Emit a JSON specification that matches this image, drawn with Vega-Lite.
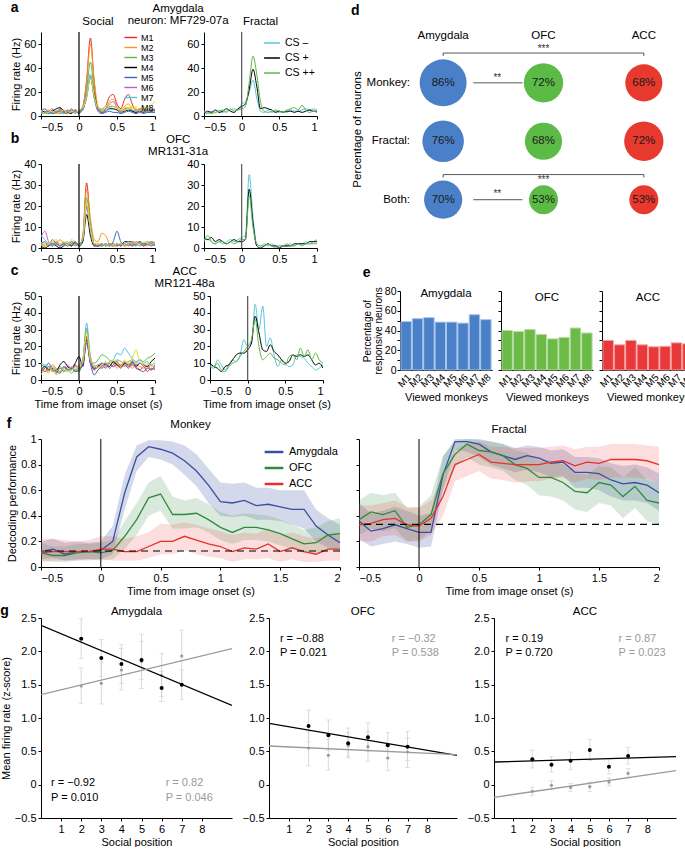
{
"$schema":"https://vega.github.io/schema/vega-lite/v6.json",
"padding":{"left":0,"top":1,"right":1,"bottom":0},
"config":{"font":"Liberation Sans","view":{"stroke":null},
"axis":{"grid":false,"domainColor":"#000","tickColor":"#000","labelColor":"#000","titleColor":"#000","labelFontSize":11,"titleFontSize":11,"titleFontWeight":"normal","tickSize":3,"labelPadding":2,"titlePadding":3,"labelOverlap":false,"labelFont":"Liberation Sans","titleFont":"Liberation Sans"},
"title":{"fontSize":11.5,"fontWeight":"normal","color":"#000","font":"Liberation Sans","offset":3},
"legend":{"labelFont":"Liberation Sans","labelColor":"#000"}},
"datasets":{
"psth":[
{"p":"a","t":-0.5,"M1":3,"M2":4,"M3":2,"M4":5,"M5":4,"M6":3,"M7":2,"M8":5,"Cm":3,"Cp":2,"Cpp":4},
{"p":"a","t":-0.45,"M1":4,"M2":3,"M3":3,"M4":3,"M5":6,"M6":2,"M7":3,"M8":2,"Cm":2,"Cp":4,"Cpp":3},
{"p":"a","t":-0.4,"M1":2,"M2":5,"M3":4,"M4":2,"M5":3,"M6":4,"M7":2,"M8":3,"Cm":4,"Cp":3,"Cpp":2},
{"p":"a","t":-0.35,"M1":5,"M2":2,"M3":3,"M4":4,"M5":2,"M6":6,"M7":3,"M8":4,"Cm":3,"Cp":5,"Cpp":3},
{"p":"a","t":-0.3,"M1":3,"M2":4,"M3":2,"M4":6,"M5":3,"M6":3,"M7":5,"M8":2,"Cm":5,"Cp":3,"Cpp":4},
{"p":"a","t":-0.25,"M1":6,"M2":3,"M3":5,"M4":7,"M5":4,"M6":2,"M7":3,"M8":3,"Cm":3,"Cp":4,"Cpp":5},
{"p":"a","t":-0.2,"M1":3,"M2":5,"M3":3,"M4":4,"M5":2,"M6":4,"M7":2,"M8":5,"Cm":4,"Cp":6,"Cpp":3},
{"p":"a","t":-0.15,"M1":2,"M2":4,"M3":3,"M4":3,"M5":5,"M6":3,"M7":4,"M8":2,"Cm":5,"Cp":4,"Cpp":6},
{"p":"a","t":-0.1,"M1":6,"M2":3,"M3":4,"M4":2,"M5":3,"M6":5,"M7":3,"M8":4,"Cm":6,"Cp":3,"Cpp":4},
{"p":"a","t":-0.05,"M1":3,"M2":5,"M3":2,"M4":5,"M5":4,"M6":3,"M7":5,"M8":3,"Cm":5,"Cp":6,"Cpp":5},
{"p":"a","t":0,"M1":4,"M2":3,"M3":5,"M4":3,"M5":2,"M6":4,"M7":3,"M8":5,"Cm":10,"Cp":8,"Cpp":6},
{"p":"a","t":0.05,"M1":8,"M2":7,"M3":6,"M4":5,"M5":6,"M6":6,"M7":5,"M8":7,"Cm":12,"Cp":10,"Cpp":8},
{"p":"a","t":0.1,"M1":30,"M2":28,"M3":22,"M4":18,"M5":15,"M6":17,"M7":20,"M8":16,"Cm":20,"Cp":22,"Cpp":28},
{"p":"a","t":0.15,"M1":65,"M2":60,"M3":45,"M4":32,"M5":33,"M6":33,"M7":35,"M8":32,"Cm":30,"Cp":39,"Cpp":50},
{"p":"a","t":0.2,"M1":28,"M2":30,"M3":20,"M4":18,"M5":15,"M6":16,"M7":15,"M8":17,"Cm":15,"Cp":25,"Cpp":35},
{"p":"a","t":0.25,"M1":5,"M2":8,"M3":6,"M4":6,"M5":4,"M6":5,"M7":6,"M8":7,"Cm":4,"Cp":6,"Cpp":12},
{"p":"a","t":0.3,"M1":6,"M2":5,"M3":4,"M4":3,"M5":2,"M6":3,"M7":4,"M8":6,"Cm":3,"Cp":7,"Cpp":4},
{"p":"a","t":0.35,"M1":8,"M2":6,"M3":5,"M4":4,"M5":3,"M6":6,"M7":4,"M8":8,"Cm":5,"Cp":6,"Cpp":3},
{"p":"a","t":0.4,"M1":16,"M2":12,"M3":8,"M4":6,"M5":4,"M6":10,"M7":7,"M8":10,"Cm":3,"Cp":5,"Cpp":4},
{"p":"a","t":0.45,"M1":18,"M2":14,"M3":8,"M4":6,"M5":3,"M6":12,"M7":8,"M8":8,"Cm":4,"Cp":3,"Cpp":5},
{"p":"a","t":0.5,"M1":10,"M2":9,"M3":6,"M4":5,"M5":3,"M6":7,"M7":6,"M8":6,"Cm":3,"Cp":4,"Cpp":4},
{"p":"a","t":0.55,"M1":6,"M2":5,"M3":4,"M4":3,"M5":2,"M6":4,"M7":3,"M8":5,"Cm":4,"Cp":3,"Cpp":3},
{"p":"a","t":0.6,"M1":14,"M2":8,"M3":6,"M4":4,"M5":3,"M6":6,"M7":5,"M8":5,"Cm":3,"Cp":4,"Cpp":5},
{"p":"a","t":0.65,"M1":18,"M2":10,"M3":7,"M4":5,"M5":4,"M6":7,"M7":6,"M8":6,"Cm":5,"Cp":4,"Cpp":6},
{"p":"a","t":0.7,"M1":10,"M2":7,"M3":4,"M4":4,"M5":3,"M6":5,"M7":5,"M8":7,"Cm":4,"Cp":3,"Cpp":7},
{"p":"a","t":0.75,"M1":5,"M2":5,"M3":3,"M4":3,"M5":2,"M6":4,"M7":4,"M8":6,"Cm":4,"Cp":4,"Cpp":5},
{"p":"a","t":0.8,"M1":6,"M2":4,"M3":5,"M4":4,"M5":3,"M6":3,"M7":5,"M8":4,"Cm":5,"Cp":3,"Cpp":9},
{"p":"a","t":0.85,"M1":5,"M2":6,"M3":4,"M4":3,"M5":2,"M6":4,"M7":5,"M8":8,"Cm":6,"Cp":4,"Cpp":5},
{"p":"a","t":0.9,"M1":4,"M2":5,"M3":3,"M4":5,"M5":3,"M6":4,"M7":4,"M8":6,"Cm":5,"Cp":5,"Cpp":3},
{"p":"a","t":0.95,"M1":6,"M2":4,"M3":5,"M4":4,"M5":3,"M6":5,"M7":6,"M8":9,"Cm":6,"Cp":4,"Cpp":4},
{"p":"a","t":1.0,"M1":5,"M2":6,"M3":4,"M4":5,"M5":3,"M6":4,"M7":5,"M8":12,"Cm":5,"Cp":4,"Cpp":3},
{"p":"b","t":-0.5,"M1":2,"M2":1,"M3":3,"M4":1,"M5":2,"M6":5,"M7":6,"M8":2,"Cm":4,"Cp":5,"Cpp":3},
{"p":"b","t":-0.45,"M1":1,"M2":2,"M3":1,"M4":0,"M5":3,"M6":8,"M7":4,"M8":1,"Cm":4,"Cp":4,"Cpp":6},
{"p":"b","t":-0.4,"M1":2,"M2":1,"M3":2,"M4":1,"M5":1,"M6":3,"M7":2,"M8":2,"Cm":3,"Cp":5,"Cpp":3},
{"p":"b","t":-0.35,"M1":1,"M2":3,"M3":1,"M4":2,"M5":4,"M6":1,"M7":1,"M8":3,"Cm":2,"Cp":3,"Cpp":2},
{"p":"b","t":-0.3,"M1":3,"M2":2,"M3":2,"M4":1,"M5":2,"M6":2,"M7":3,"M8":4,"Cm":3,"Cp":4,"Cpp":3},
{"p":"b","t":-0.25,"M1":1,"M2":4,"M3":1,"M4":0,"M5":1,"M6":1,"M7":2,"M8":2,"Cm":2,"Cp":3,"Cpp":3},
{"p":"b","t":-0.2,"M1":2,"M2":2,"M3":2,"M4":1,"M5":2,"M6":3,"M7":1,"M8":3,"Cm":3,"Cp":2,"Cpp":2},
{"p":"b","t":-0.15,"M1":1,"M2":1,"M3":3,"M4":2,"M5":1,"M6":1,"M7":2,"M8":1,"Cm":4,"Cp":3,"Cpp":3},
{"p":"b","t":-0.1,"M1":2,"M2":3,"M3":1,"M4":1,"M5":3,"M6":2,"M7":3,"M8":4,"Cm":3,"Cp":4,"Cpp":2},
{"p":"b","t":-0.05,"M1":3,"M2":2,"M3":2,"M4":3,"M5":2,"M6":1,"M7":2,"M8":3,"Cm":4,"Cp":3,"Cpp":3},
{"p":"b","t":0,"M1":1,"M2":1,"M3":2,"M4":1,"M5":2,"M6":2,"M7":1,"M8":2,"Cm":5,"Cp":3,"Cpp":4},
{"p":"b","t":0.05,"M1":6,"M2":5,"M3":4,"M4":3,"M5":4,"M6":4,"M7":5,"M8":5,"Cm":6,"Cp":4,"Cpp":4},
{"p":"b","t":0.1,"M1":31,"M2":28,"M3":24,"M4":16,"M5":20,"M6":20,"M7":22,"M8":22,"Cm":35,"Cp":28,"Cpp":25},
{"p":"b","t":0.15,"M1":12,"M2":14,"M3":10,"M4":6,"M5":8,"M6":9,"M7":10,"M8":9,"Cm":15,"Cp":12,"Cpp":10},
{"p":"b","t":0.2,"M1":2,"M2":4,"M3":2,"M4":1,"M5":2,"M6":2,"M7":2,"M8":2,"Cm":2,"Cp":1,"Cpp":2},
{"p":"b","t":0.25,"M1":1,"M2":3,"M3":2,"M4":1,"M5":1,"M6":1,"M7":2,"M8":2,"Cm":1,"Cp":0,"Cpp":1},
{"p":"b","t":0.3,"M1":2,"M2":7,"M3":1,"M4":2,"M5":1,"M6":2,"M7":1,"M8":2,"Cm":2,"Cp":1,"Cpp":1},
{"p":"b","t":0.35,"M1":1,"M2":6,"M3":2,"M4":1,"M5":2,"M6":1,"M7":2,"M8":1,"Cm":1,"Cp":2,"Cpp":2},
{"p":"b","t":0.4,"M1":2,"M2":2,"M3":1,"M4":2,"M5":1,"M6":2,"M7":1,"M8":2,"Cm":2,"Cp":1,"Cpp":1},
{"p":"b","t":0.45,"M1":1,"M2":1,"M3":2,"M4":1,"M5":3,"M6":2,"M7":1,"M8":1,"Cm":1,"Cp":1,"Cpp":0},
{"p":"b","t":0.5,"M1":2,"M2":1,"M3":1,"M4":2,"M5":8,"M6":1,"M7":2,"M8":2,"Cm":1,"Cp":0,"Cpp":1},
{"p":"b","t":0.55,"M1":1,"M2":2,"M3":2,"M4":1,"M5":3,"M6":2,"M7":1,"M8":2,"Cm":1,"Cp":1,"Cpp":1},
{"p":"b","t":0.6,"M1":2,"M2":1,"M3":1,"M4":3,"M5":1,"M6":1,"M7":2,"M8":1,"Cm":1,"Cp":1,"Cpp":2},
{"p":"b","t":0.65,"M1":1,"M2":2,"M3":2,"M4":3,"M5":2,"M6":2,"M7":3,"M8":2,"Cm":2,"Cp":1,"Cpp":1},
{"p":"b","t":0.7,"M1":2,"M2":1,"M3":3,"M4":3,"M5":1,"M6":2,"M7":2,"M8":3,"Cm":1,"Cp":2,"Cpp":1},
{"p":"b","t":0.75,"M1":1,"M2":2,"M3":2,"M4":2,"M5":2,"M6":3,"M7":1,"M8":2,"Cm":2,"Cp":2,"Cpp":2},
{"p":"b","t":0.8,"M1":3,"M2":3,"M3":1,"M4":3,"M5":2,"M6":2,"M7":3,"M8":2,"Cm":2,"Cp":2,"Cpp":1},
{"p":"b","t":0.85,"M1":1,"M2":2,"M3":2,"M4":2,"M5":1,"M6":1,"M7":2,"M8":3,"Cm":3,"Cp":2,"Cpp":2},
{"p":"b","t":0.9,"M1":2,"M2":1,"M3":3,"M4":2,"M5":2,"M6":2,"M7":3,"M8":2,"Cm":2,"Cp":3,"Cpp":2},
{"p":"b","t":0.95,"M1":3,"M2":2,"M3":2,"M4":3,"M5":1,"M6":2,"M7":2,"M8":3,"Cm":3,"Cp":3,"Cpp":2},
{"p":"b","t":1.0,"M1":2,"M2":3,"M3":2,"M4":2,"M5":2,"M6":1,"M7":3,"M8":2,"Cm":4,"Cp":3,"Cpp":2},
{"p":"c","t":-0.5,"M1":7,"M2":8,"M3":9,"M4":6,"M5":5,"M6":7,"M7":10,"M8":3,"Cm":8,"Cp":10,"Cpp":9},
{"p":"c","t":-0.45,"M1":5,"M2":6,"M3":8,"M4":8,"M5":7,"M6":5,"M7":9,"M8":6,"Cm":7,"Cp":8,"Cpp":8},
{"p":"c","t":-0.4,"M1":8,"M2":5,"M3":7,"M4":6,"M5":10,"M6":6,"M7":8,"M8":4,"Cm":12,"Cp":7,"Cpp":10},
{"p":"c","t":-0.35,"M1":6,"M2":9,"M3":5,"M4":7,"M5":6,"M6":8,"M7":6,"M8":8,"Cm":9,"Cp":5,"Cpp":6},
{"p":"c","t":-0.3,"M1":4,"M2":7,"M3":6,"M4":5,"M5":5,"M6":6,"M7":5,"M8":3,"Cm":6,"Cp":8,"Cpp":5},
{"p":"c","t":-0.25,"M1":7,"M2":5,"M3":8,"M4":9,"M5":4,"M6":5,"M7":7,"M8":5,"Cm":9,"Cp":9,"Cpp":8},
{"p":"c","t":-0.2,"M1":5,"M2":8,"M3":5,"M4":11,"M5":8,"M6":7,"M7":6,"M8":7,"Cm":12,"Cp":12,"Cpp":10},
{"p":"c","t":-0.15,"M1":8,"M2":6,"M3":7,"M4":8,"M5":6,"M6":9,"M7":5,"M8":5,"Cm":11,"Cp":15,"Cpp":11},
{"p":"c","t":-0.1,"M1":6,"M2":7,"M3":4,"M4":7,"M5":7,"M6":6,"M7":8,"M8":6,"Cm":15,"Cp":16,"Cpp":14},
{"p":"c","t":-0.05,"M1":9,"M2":5,"M3":6,"M4":10,"M5":5,"M6":8,"M7":6,"M8":7,"Cm":24,"Cp":16,"Cpp":17},
{"p":"c","t":0,"M1":7,"M2":8,"M3":5,"M4":14,"M5":6,"M6":7,"M7":9,"M8":8,"Cm":20,"Cp":18,"Cpp":20},
{"p":"c","t":0.05,"M1":10,"M2":12,"M3":12,"M4":8,"M5":9,"M6":10,"M7":12,"M8":11,"Cm":22,"Cp":22,"Cpp":24},
{"p":"c","t":0.1,"M1":26,"M2":30,"M3":31,"M4":24,"M5":22,"M6":25,"M7":34,"M8":28,"Cm":45,"Cp":38,"Cpp":36},
{"p":"c","t":0.15,"M1":12,"M2":14,"M3":12,"M4":10,"M5":10,"M6":11,"M7":14,"M8":12,"Cm":30,"Cp":28,"Cpp":20},
{"p":"c","t":0.2,"M1":6,"M2":8,"M3":10,"M4":7,"M5":3,"M6":6,"M7":8,"M8":9,"Cm":44,"Cp":18,"Cpp":12},
{"p":"c","t":0.25,"M1":8,"M2":9,"M3":12,"M4":8,"M5":6,"M6":8,"M7":9,"M8":7,"Cm":20,"Cp":17,"Cpp":14},
{"p":"c","t":0.3,"M1":9,"M2":7,"M3":15,"M4":10,"M5":8,"M6":7,"M7":10,"M8":9,"Cm":25,"Cp":21,"Cpp":16},
{"p":"c","t":0.35,"M1":7,"M2":10,"M3":14,"M4":9,"M5":10,"M6":9,"M7":8,"M8":11,"Cm":15,"Cp":17,"Cpp":13},
{"p":"c","t":0.4,"M1":10,"M2":8,"M3":12,"M4":8,"M5":7,"M6":10,"M7":11,"M8":9,"Cm":8,"Cp":15,"Cpp":12},
{"p":"c","t":0.45,"M1":8,"M2":11,"M3":10,"M4":11,"M5":9,"M6":8,"M7":12,"M8":12,"Cm":12,"Cp":12,"Cpp":10},
{"p":"c","t":0.5,"M1":9,"M2":7,"M3":12,"M4":9,"M5":11,"M6":10,"M7":16,"M8":10,"Cm":10,"Cp":10,"Cpp":9},
{"p":"c","t":0.55,"M1":7,"M2":9,"M3":11,"M4":8,"M5":8,"M6":9,"M7":15,"M8":8,"Cm":8,"Cp":11,"Cpp":14},
{"p":"c","t":0.6,"M1":10,"M2":8,"M3":10,"M4":10,"M5":9,"M6":11,"M7":19,"M8":12,"Cm":9,"Cp":15,"Cpp":15},
{"p":"c","t":0.65,"M1":8,"M2":10,"M3":11,"M4":9,"M5":7,"M6":8,"M7":16,"M8":9,"Cm":15,"Cp":14,"Cpp":12},
{"p":"c","t":0.7,"M1":9,"M2":7,"M3":12,"M4":11,"M5":10,"M6":10,"M7":13,"M8":13,"Cm":14,"Cp":15,"Cpp":19},
{"p":"c","t":0.75,"M1":7,"M2":9,"M3":10,"M4":8,"M5":8,"M6":9,"M7":11,"M8":18,"Cm":13,"Cp":14,"Cpp":14},
{"p":"c","t":0.8,"M1":6,"M2":8,"M3":12,"M4":10,"M5":6,"M6":10,"M7":12,"M8":11,"Cm":10,"Cp":15,"Cpp":18},
{"p":"c","t":0.85,"M1":8,"M2":7,"M3":11,"M4":9,"M5":5,"M6":8,"M7":10,"M8":9,"Cm":8,"Cp":12,"Cpp":12},
{"p":"c","t":0.9,"M1":5,"M2":9,"M3":13,"M4":8,"M5":7,"M6":7,"M7":11,"M8":10,"Cm":6,"Cp":9,"Cpp":16},
{"p":"c","t":0.95,"M1":7,"M2":6,"M3":14,"M4":11,"M5":6,"M6":9,"M7":9,"M8":8,"Cm":7,"Cp":10,"Cpp":12},
{"p":"c","t":1.0,"M1":6,"M2":8,"M3":16,"M4":13,"M5":9,"M6":6,"M7":10,"M8":12,"Cm":9,"Cp":7,"Cpp":10}
],
"dec":[
{"p":"M","t":-0.5,"A":0.12,"Al":0.06,"Ah":0.2,"O":0.11,"Ol":0.05,"Oh":0.19,"C":0.11,"Cl":0.04,"Ch":0.22},
{"p":"M","t":-0.4,"A":0.14,"Al":0.07,"Ah":0.22,"O":0.09,"Ol":0.04,"Oh":0.16,"C":0.12,"Cl":0.05,"Ch":0.22},
{"p":"M","t":-0.3,"A":0.1,"Al":0.05,"Ah":0.19,"O":0.09,"Ol":0.04,"Oh":0.16,"C":0.12,"Cl":0.05,"Ch":0.21},
{"p":"M","t":-0.2,"A":0.12,"Al":0.06,"Ah":0.2,"O":0.11,"Ol":0.05,"Oh":0.18,"C":0.12,"Cl":0.05,"Ch":0.2},
{"p":"M","t":-0.1,"A":0.12,"Al":0.06,"Ah":0.19,"O":0.12,"Ol":0.06,"Oh":0.18,"C":0.12,"Cl":0.05,"Ch":0.21},
{"p":"M","t":0,"A":0.13,"Al":0.06,"Ah":0.2,"O":0.11,"Ol":0.05,"Oh":0.19,"C":0.14,"Cl":0.06,"Ch":0.24},
{"p":"M","t":0.1,"A":0.2,"Al":0.1,"Ah":0.32,"O":0.13,"Ol":0.06,"Oh":0.21,"C":0.14,"Cl":0.05,"Ch":0.24},
{"p":"M","t":0.2,"A":0.58,"Al":0.45,"Ah":0.72,"O":0.24,"Ol":0.14,"Oh":0.36,"C":0.12,"Cl":0.05,"Ch":0.22},
{"p":"M","t":0.3,"A":0.86,"Al":0.75,"Ah":0.95,"O":0.37,"Ol":0.25,"Oh":0.5,"C":0.12,"Cl":0.05,"Ch":0.24},
{"p":"M","t":0.4,"A":0.94,"Al":0.86,"Ah":0.99,"O":0.54,"Ol":0.4,"Oh":0.66,"C":0.16,"Cl":0.07,"Ch":0.27},
{"p":"M","t":0.5,"A":0.92,"Al":0.84,"Ah":0.99,"O":0.57,"Ol":0.44,"Oh":0.71,"C":0.2,"Cl":0.1,"Ch":0.34},
{"p":"M","t":0.6,"A":0.89,"Al":0.8,"Ah":0.98,"O":0.41,"Ol":0.3,"Oh":0.55,"C":0.2,"Cl":0.1,"Ch":0.33},
{"p":"M","t":0.7,"A":0.83,"Al":0.72,"Ah":0.95,"O":0.41,"Ol":0.3,"Oh":0.52,"C":0.24,"Cl":0.13,"Ch":0.35},
{"p":"M","t":0.8,"A":0.75,"Al":0.63,"Ah":0.88,"O":0.42,"Ol":0.31,"Oh":0.54,"C":0.21,"Cl":0.1,"Ch":0.33},
{"p":"M","t":0.9,"A":0.64,"Al":0.5,"Ah":0.77,"O":0.37,"Ol":0.27,"Oh":0.49,"C":0.18,"Cl":0.08,"Ch":0.3},
{"p":"M","t":1.0,"A":0.51,"Al":0.4,"Ah":0.66,"O":0.31,"Ol":0.21,"Oh":0.43,"C":0.16,"Cl":0.07,"Ch":0.28},
{"p":"M","t":1.1,"A":0.5,"Al":0.39,"Ah":0.65,"O":0.27,"Ol":0.18,"Oh":0.4,"C":0.12,"Cl":0.04,"Ch":0.25},
{"p":"M","t":1.2,"A":0.52,"Al":0.4,"Ah":0.66,"O":0.31,"Ol":0.21,"Oh":0.42,"C":0.15,"Cl":0.06,"Ch":0.27},
{"p":"M","t":1.3,"A":0.48,"Al":0.37,"Ah":0.62,"O":0.31,"Ol":0.21,"Oh":0.41,"C":0.14,"Cl":0.06,"Ch":0.26},
{"p":"M","t":1.4,"A":0.49,"Al":0.37,"Ah":0.62,"O":0.29,"Ol":0.2,"Oh":0.4,"C":0.18,"Cl":0.07,"Ch":0.3},
{"p":"M","t":1.5,"A":0.47,"Al":0.36,"Ah":0.6,"O":0.26,"Ol":0.17,"Oh":0.37,"C":0.12,"Cl":0.04,"Ch":0.25},
{"p":"M","t":1.6,"A":0.45,"Al":0.33,"Ah":0.6,"O":0.22,"Ol":0.14,"Oh":0.33,"C":0.15,"Cl":0.06,"Ch":0.27},
{"p":"M","t":1.7,"A":0.45,"Al":0.3,"Ah":0.6,"O":0.18,"Ol":0.11,"Oh":0.29,"C":0.12,"Cl":0.04,"Ch":0.24},
{"p":"M","t":1.8,"A":0.32,"Al":0.2,"Ah":0.45,"O":0.19,"Ol":0.11,"Oh":0.31,"C":0.1,"Cl":0.04,"Ch":0.22},
{"p":"M","t":1.9,"A":0.25,"Al":0.15,"Ah":0.38,"O":0.25,"Ol":0.14,"Oh":0.36,"C":0.14,"Cl":0.05,"Ch":0.25},
{"p":"M","t":2.0,"A":0.19,"Al":0.12,"Ah":0.33,"O":0.26,"Ol":0.14,"Oh":0.38,"C":0.14,"Cl":0.05,"Ch":0.25},
{"p":"F","t":-0.5,"A":0.36,"Al":0.22,"Ah":0.5,"O":0.37,"Ol":0.25,"Oh":0.52,"C":0.33,"Cl":0.2,"Ch":0.48},
{"p":"F","t":-0.4,"A":0.28,"Al":0.16,"Ah":0.42,"O":0.43,"Ol":0.3,"Oh":0.58,"C":0.34,"Cl":0.2,"Ch":0.48},
{"p":"F","t":-0.3,"A":0.3,"Al":0.18,"Ah":0.44,"O":0.41,"Ol":0.28,"Oh":0.56,"C":0.37,"Cl":0.24,"Ch":0.5},
{"p":"F","t":-0.2,"A":0.33,"Al":0.2,"Ah":0.47,"O":0.44,"Ol":0.3,"Oh":0.58,"C":0.38,"Cl":0.25,"Ch":0.52},
{"p":"F","t":-0.1,"A":0.3,"Al":0.18,"Ah":0.44,"O":0.31,"Ol":0.2,"Oh":0.46,"C":0.33,"Cl":0.2,"Ch":0.47},
{"p":"F","t":0,"A":0.27,"Al":0.15,"Ah":0.4,"O":0.33,"Ol":0.21,"Oh":0.47,"C":0.32,"Cl":0.2,"Ch":0.46},
{"p":"F","t":0.1,"A":0.27,"Al":0.16,"Ah":0.42,"O":0.41,"Ol":0.28,"Oh":0.56,"C":0.38,"Cl":0.25,"Ch":0.52},
{"p":"F","t":0.2,"A":0.72,"Al":0.6,"Ah":0.86,"O":0.73,"Ol":0.6,"Oh":0.87,"C":0.55,"Cl":0.4,"Ch":0.7},
{"p":"F","t":0.3,"A":0.98,"Al":0.92,"Ah":1.0,"O":0.88,"Ol":0.78,"Oh":0.98,"C":0.8,"Cl":0.67,"Ch":0.92},
{"p":"F","t":0.4,"A":0.98,"Al":0.9,"Ah":1.0,"O":0.96,"Ol":0.86,"Oh":1.0,"C":0.84,"Cl":0.71,"Ch":0.96},
{"p":"F","t":0.5,"A":0.96,"Al":0.86,"Ah":1.0,"O":0.91,"Ol":0.8,"Oh":0.99,"C":0.88,"Cl":0.75,"Ch":0.98},
{"p":"F","t":0.6,"A":0.9,"Al":0.8,"Ah":0.98,"O":0.9,"Ol":0.78,"Oh":0.98,"C":0.82,"Cl":0.69,"Ch":0.94},
{"p":"F","t":0.7,"A":0.87,"Al":0.77,"Ah":0.96,"O":0.87,"Ol":0.75,"Oh":0.96,"C":0.81,"Cl":0.68,"Ch":0.94},
{"p":"F","t":0.8,"A":0.84,"Al":0.74,"Ah":0.93,"O":0.8,"Ol":0.68,"Oh":0.91,"C":0.8,"Cl":0.66,"Ch":0.93},
{"p":"F","t":0.9,"A":0.87,"Al":0.76,"Ah":0.95,"O":0.77,"Ol":0.64,"Oh":0.89,"C":0.8,"Cl":0.67,"Ch":0.93},
{"p":"F","t":1.0,"A":0.85,"Al":0.74,"Ah":0.94,"O":0.7,"Ol":0.56,"Oh":0.83,"C":0.8,"Cl":0.67,"Ch":0.93},
{"p":"F","t":1.1,"A":0.81,"Al":0.7,"Ah":0.91,"O":0.7,"Ol":0.55,"Oh":0.83,"C":0.82,"Cl":0.69,"Ch":0.94},
{"p":"F","t":1.2,"A":0.82,"Al":0.71,"Ah":0.92,"O":0.66,"Ol":0.52,"Oh":0.8,"C":0.83,"Cl":0.7,"Ch":0.95},
{"p":"F","t":1.3,"A":0.74,"Al":0.62,"Ah":0.86,"O":0.59,"Ol":0.45,"Oh":0.73,"C":0.79,"Cl":0.66,"Ch":0.92},
{"p":"F","t":1.4,"A":0.74,"Al":0.62,"Ah":0.86,"O":0.58,"Ol":0.43,"Oh":0.72,"C":0.82,"Cl":0.69,"Ch":0.94},
{"p":"F","t":1.5,"A":0.73,"Al":0.6,"Ah":0.85,"O":0.66,"Ol":0.5,"Oh":0.79,"C":0.81,"Cl":0.68,"Ch":0.94},
{"p":"F","t":1.6,"A":0.68,"Al":0.55,"Ah":0.81,"O":0.64,"Ol":0.48,"Oh":0.78,"C":0.84,"Cl":0.7,"Ch":0.96},
{"p":"F","t":1.7,"A":0.65,"Al":0.52,"Ah":0.79,"O":0.55,"Ol":0.38,"Oh":0.7,"C":0.84,"Cl":0.7,"Ch":0.96},
{"p":"F","t":1.8,"A":0.66,"Al":0.52,"Ah":0.8,"O":0.63,"Ol":0.46,"Oh":0.78,"C":0.84,"Cl":0.7,"Ch":0.96},
{"p":"F","t":1.9,"A":0.64,"Al":0.5,"Ah":0.78,"O":0.52,"Ol":0.36,"Oh":0.68,"C":0.83,"Cl":0.69,"Ch":0.95},
{"p":"F","t":2.0,"A":0.58,"Al":0.44,"Ah":0.73,"O":0.5,"Ol":0.33,"Oh":0.66,"C":0.8,"Cl":0.66,"Ch":0.94}
],
"circ":[
{"reg":"Amygdala","x":1,"y":3,"pct":86,"lab":"86%"},
{"reg":"OFC","x":2,"y":3,"pct":72,"lab":"72%"},
{"reg":"ACC","x":3,"y":3,"pct":68,"lab":"68%"},
{"reg":"Amygdala","x":1,"y":2,"pct":76,"lab":"76%"},
{"reg":"OFC","x":2,"y":2,"pct":68,"lab":"68%"},
{"reg":"ACC","x":3,"y":2,"pct":72,"lab":"72%"},
{"reg":"Amygdala","x":1,"y":1,"pct":70,"lab":"70%"},
{"reg":"OFC","x":2,"y":1,"pct":53,"lab":"53%"},
{"reg":"ACC","x":3,"y":1,"pct":53,"lab":"53%"}
],
"rowlab":[
{"x":0.67,"y":3,"s":"Monkey:"},{"x":0.67,"y":2,"s":"Fractal:"},{"x":0.67,"y":1,"s":"Both:"}
],
"hdr":[
{"x":1,"y":3.8,"s":"Amygdala"},{"x":2,"y":3.8,"s":"OFC"},{"x":3,"y":3.8,"s":"ACC"}
],
"brk":[
{"x":1,"x2":3,"y":3.51,"y2":3.51},{"x":1,"x2":1,"y":3.51,"y2":3.46},{"x":3,"x2":3,"y":3.51,"y2":3.46},
{"x":1,"x2":3,"y":1.43,"y2":1.43},{"x":1,"x2":1,"y":1.43,"y2":1.38},{"x":3,"x2":3,"y":1.43,"y2":1.38},
{"x":1.3,"x2":1.79,"y":3,"y2":3},{"x":1.3,"x2":1.79,"y":1,"y2":1}
],
"stars":[
{"x":2,"y":3.58,"s":"***"},{"x":1.54,"y":3.09,"s":"**"},{"x":2,"y":1.33,"s":"***"},{"x":1.54,"y":1.09,"s":"**"}
],
"bars":[
{"reg":"Amygdala","m":"M1","v":49},{"reg":"Amygdala","m":"M2","v":52},{"reg":"Amygdala","m":"M3","v":53},{"reg":"Amygdala","m":"M4","v":48.5},
{"reg":"Amygdala","m":"M5","v":48.5},{"reg":"Amygdala","m":"M6","v":47.5},{"reg":"Amygdala","m":"M7","v":56},{"reg":"Amygdala","m":"M8","v":51},
{"reg":"OFC","m":"M1","v":40},{"reg":"OFC","m":"M2","v":39},{"reg":"OFC","m":"M3","v":41},{"reg":"OFC","m":"M4","v":36},
{"reg":"OFC","m":"M5","v":31.5},{"reg":"OFC","m":"M6","v":33},{"reg":"OFC","m":"M7","v":42.5},{"reg":"OFC","m":"M8","v":37.5},
{"reg":"ACC","m":"M1","v":30},{"reg":"ACC","m":"M2","v":25.5},{"reg":"ACC","m":"M3","v":30},{"reg":"ACC","m":"M4","v":25.5},
{"reg":"ACC","m":"M5","v":23.5},{"reg":"ACC","m":"M6","v":24},{"reg":"ACC","m":"M7","v":27.5},{"reg":"ACC","m":"M8","v":26.5}
],
"soc":[
{"reg":"Amygdala","x":2,"b":2.19,"bl":1.89,"bh":2.49,"g":1.48,"gl":1.22,"gh":1.75},
{"reg":"Amygdala","x":3,"b":1.9,"bl":1.62,"bh":2.18,"g":1.52,"gl":1.21,"gh":1.84},
{"reg":"Amygdala","x":4,"b":1.81,"bl":1.52,"bh":2.1,"g":1.72,"gl":1.42,"gh":2.04},
{"reg":"Amygdala","x":5,"b":1.87,"bl":1.58,"bh":2.25,"g":1.85,"gl":1.44,"gh":2.15},
{"reg":"Amygdala","x":6,"b":1.45,"bl":1.25,"bh":1.7,"g":1.64,"gl":1.32,"gh":1.97},
{"reg":"Amygdala","x":7,"b":1.5,"bl":1.28,"bh":1.72,"g":1.93,"gl":1.55,"gh":2.32},
{"reg":"OFC","x":2,"b":0.88,"bl":0.64,"bh":1.12,"g":0.55,"gl":0.29,"gh":0.8},
{"reg":"OFC","x":3,"b":0.74,"bl":0.52,"bh":0.97,"g":0.44,"gl":0.22,"gh":0.68},
{"reg":"OFC","x":4,"b":0.62,"bl":0.42,"bh":0.85,"g":0.59,"gl":0.4,"gh":0.78},
{"reg":"OFC","x":5,"b":0.71,"bl":0.5,"bh":0.93,"g":0.57,"gl":0.35,"gh":0.8},
{"reg":"OFC","x":6,"b":0.59,"bl":0.4,"bh":0.78,"g":0.4,"gl":0.21,"gh":0.6},
{"reg":"OFC","x":7,"b":0.57,"bl":0.36,"bh":0.8,"g":0.49,"gl":0.26,"gh":0.7},
{"reg":"ACC","x":2,"b":0.38,"bl":0.25,"bh":0.52,"g":-0.1,"gl":-0.16,"gh":-0.04},
{"reg":"ACC","x":3,"b":0.3,"bl":0.19,"bh":0.42,"g":-0.01,"gl":-0.07,"gh":0.06},
{"reg":"ACC","x":4,"b":0.36,"bl":0.23,"bh":0.49,"g":-0.04,"gl":-0.1,"gh":0.02},
{"reg":"ACC","x":5,"b":0.52,"bl":0.36,"bh":0.68,"g":-0.03,"gl":-0.1,"gh":0.04},
{"reg":"ACC","x":6,"b":0.27,"bl":0.16,"bh":0.39,"g":0.04,"gl":-0.02,"gh":0.1},
{"reg":"ACC","x":7,"b":0.43,"bl":0.31,"bh":0.56,"g":0.17,"gl":0.1,"gh":0.24}
],
"rl":[
{"reg":"Amygdala","k":"b","x":0,"y":2.39},{"reg":"Amygdala","k":"b","x":9.5,"y":1.19},
{"reg":"Amygdala","k":"g","x":0,"y":1.35},{"reg":"Amygdala","k":"g","x":9.5,"y":2.04},
{"reg":"OFC","k":"b","x":0,"y":0.92},{"reg":"OFC","k":"b","x":9.5,"y":0.44},
{"reg":"OFC","k":"g","x":0,"y":0.58},{"reg":"OFC","k":"g","x":9.5,"y":0.45},
{"reg":"ACC","k":"b","x":0,"y":0.34},{"reg":"ACC","k":"b","x":9.5,"y":0.42},
{"reg":"ACC","k":"g","x":0,"y":-0.19},{"reg":"ACC","k":"g","x":9.5,"y":0.21}
],
"gtxt":[
{"reg":"Amygdala","k":"b","x":0.5,"y":0.02,"s":"r = −0.92"},{"reg":"Amygdala","k":"b","x":0.5,"y":-0.2,"s":"P = 0.010"},
{"reg":"Amygdala","k":"g","x":6.2,"y":0.02,"s":"r = 0.82"},{"reg":"Amygdala","k":"g","x":6.2,"y":-0.2,"s":"P = 0.046"},
{"reg":"OFC","k":"b","x":0.55,"y":2.19,"s":"r = −0.88"},{"reg":"OFC","k":"b","x":0.55,"y":1.98,"s":"P = 0.021"},
{"reg":"OFC","k":"g","x":6.2,"y":2.19,"s":"r = −0.32"},{"reg":"OFC","k":"g","x":6.2,"y":1.98,"s":"P = 0.538"},
{"reg":"ACC","k":"b","x":0.6,"y":2.19,"s":"r = 0.19"},{"reg":"ACC","k":"b","x":0.6,"y":1.98,"s":"P = 0.720"},
{"reg":"ACC","k":"g","x":6.5,"y":2.19,"s":"r = 0.87"},{"reg":"ACC","k":"g","x":6.5,"y":1.98,"s":"P = 0.023"}
]
},
"resolve":{"scale":{"color":"independent","size":"independent"},"legend":{"color":"independent","size":"independent"}},
"spacing":7,
"vconcat":[
{"hconcat":[
 {"vconcat":[
  {"title":{"text":"a","anchor":"start","frame":"bounds","fontSize":14,"fontWeight":"bold","offset":-12},
   "resolve":{"scale":{"color":"independent"},"legend":{"color":"independent"}},
   "vconcat":[
   {"title":{"text":["Amygdala","neuron: MF729-07a"],"anchor":"middle","offset":-11,"lineHeight":12,"dx":14},
    "resolve":{"scale":{"color":"independent"},"legend":{"color":"independent"}},
    "spacing":30,
    "hconcat":[
     {"width":114,"height":84,"title":{"text":"Social","offset":4},
      "layer":[
       {"data":{"name":"psth"},"transform":[{"filter":"datum.p=='a'"},{"fold":["M1","M2","M3","M4","M5","M6","M7","M8"],"as":["k","v"]}],
        "mark":{"type":"line","strokeWidth":1,"interpolate":"monotone","clip":true},
        "encoding":{"x":{"field":"t","type":"quantitative","scale":{"domain":[-0.5,1],"nice":false},"axis":{"values":[-0.5,0,0.5,1],"tickCount":20,"format":"~g","title":null,"labelOverlap":false}},
         "y":{"field":"v","type":"quantitative","scale":{"domain":[0,70],"nice":false},"axis":{"values":[0,20,40,60],"tickCount":20,"title":"Firing rate (Hz)","titlePadding":2,"labelOverlap":false}},
         "color":{"field":"k","type":"nominal","scale":{"domain":["M1","M2","M3","M4","M5","M6","M7","M8"],"range":["#e3262b","#f7941d","#5ab848","#000000","#3a66c4","#c65bbf","#4fc3e0","#f2d91a"]},
          "legend":{"orient":"top-right","title":null,"symbolType":"M-2.6,0H1","symbolStrokeWidth":1.4,"symbolSize":49,"labelFontSize":9,"rowPadding":-1,"offset":1,"padding":0,"labelOffset":3}}}},
       {"data":{"values":[{}]},"mark":{"type":"rule","color":"#000","strokeWidth":1.2},"encoding":{"x":{"datum":0}}}
      ]},
     {"width":113,"height":84,"title":{"text":"Fractal","offset":4},
      "layer":[
       {"data":{"name":"psth"},"transform":[{"filter":"datum.p=='a'"},{"fold":["Cm","Cp","Cpp"],"as":["k","v"]}],
        "mark":{"type":"line","strokeWidth":1,"interpolate":"monotone","clip":true},
        "encoding":{"x":{"field":"t","type":"quantitative","scale":{"domain":[-0.5,1],"nice":false},"axis":{"values":[-0.5,0,0.5,1],"tickCount":20,"format":"~g","title":null,"labelOverlap":false}},
         "y":{"field":"v","type":"quantitative","scale":{"domain":[0,70],"nice":false},"axis":{"values":[0,20,40,60],"tickCount":20,"title":null,"labelOverlap":false}},
         "color":{"field":"k","type":"nominal","scale":{"domain":["Cm","Cp","Cpp"],"range":["#5bc5dc","#000000","#5cb846"]},
          "legend":{"orient":"top-right","title":null,"symbolType":"stroke","symbolStrokeWidth":1.5,"symbolSize":250,"labelFontSize":10.5,"rowPadding":-2,"offset":2,"padding":0,"labelExpr":"datum.label=='Cm'?'CS –':datum.label=='Cp'?'CS +':'CS ++'"}}}},
       {"data":{"values":[{}]},"mark":{"type":"rule","color":"#555","strokeWidth":1.2},"encoding":{"x":{"datum":0}}}
      ]}
    ]}
   ]},
  {"title":{"text":"b","anchor":"start","frame":"bounds","fontSize":14,"fontWeight":"bold","offset":-12},
   "resolve":{"scale":{"color":"independent"},"legend":{"color":"independent"}},
   "vconcat":[
   {"title":{"text":["OFC","MR131-31a"],"anchor":"middle","offset":1,"lineHeight":11.5,"dx":14},
    "resolve":{"scale":{"color":"independent"},"legend":{"color":"independent"}},
    "spacing":30,
    "hconcat":[
     {"width":114,"height":84,
      "layer":[
       {"data":{"name":"psth"},"transform":[{"filter":"datum.p=='b'"},{"fold":["M1","M2","M3","M4","M5","M6","M7","M8"],"as":["k","v"]}],
        "mark":{"type":"line","strokeWidth":1,"interpolate":"monotone","clip":true},
        "encoding":{"x":{"field":"t","type":"quantitative","scale":{"domain":[-0.5,1],"nice":false},"axis":{"values":[-0.5,0,0.5,1],"tickCount":20,"format":"~g","title":null,"labelOverlap":false}},
         "y":{"field":"v","type":"quantitative","scale":{"domain":[0,40],"nice":false},"axis":{"values":[0,10,20,30,40],"tickCount":20,"title":"Firing rate (Hz)","titlePadding":2,"labelOverlap":false}},
         "color":{"field":"k","type":"nominal","scale":{"domain":["M1","M2","M3","M4","M5","M6","M7","M8"],"range":["#e3262b","#f7941d","#5ab848","#000000","#3a66c4","#c65bbf","#4fc3e0","#f2d91a"]},"legend":null}}},
       {"data":{"values":[{}]},"mark":{"type":"rule","color":"#000","strokeWidth":1.2},"encoding":{"x":{"datum":0}}}
      ]},
     {"width":113,"height":84,
      "layer":[
       {"data":{"name":"psth"},"transform":[{"filter":"datum.p=='b'"},{"fold":["Cm","Cp","Cpp"],"as":["k","v"]}],
        "mark":{"type":"line","strokeWidth":1,"interpolate":"monotone","clip":true},
        "encoding":{"x":{"field":"t","type":"quantitative","scale":{"domain":[-0.5,1],"nice":false},"axis":{"values":[-0.5,0,0.5,1],"tickCount":20,"format":"~g","title":null,"labelOverlap":false}},
         "y":{"field":"v","type":"quantitative","scale":{"domain":[0,40],"nice":false},"axis":{"values":[0,10,20,30,40],"tickCount":20,"title":null,"labelOverlap":false}},
         "color":{"field":"k","type":"nominal","scale":{"domain":["Cm","Cp","Cpp"],"range":["#5bc5dc","#000000","#5cb846"]},"legend":null}}},
       {"data":{"values":[{}]},"mark":{"type":"rule","color":"#555","strokeWidth":1.2},"encoding":{"x":{"datum":0}}}
      ]}
    ]}
   ]},
  {"title":{"text":"c","anchor":"start","frame":"bounds","fontSize":14,"fontWeight":"bold","offset":-12},
   "resolve":{"scale":{"color":"independent"},"legend":{"color":"independent"}},
   "vconcat":[
   {"title":{"text":["ACC","MR121-48a"],"anchor":"middle","offset":1,"lineHeight":11.5,"dx":14},
    "resolve":{"scale":{"color":"independent"},"legend":{"color":"independent"}},
    "spacing":30,
    "hconcat":[
     {"width":114,"height":84,
      "layer":[
       {"data":{"name":"psth"},"transform":[{"filter":"datum.p=='c'"},{"fold":["M1","M2","M3","M4","M5","M6","M7","M8"],"as":["k","v"]}],
        "mark":{"type":"line","strokeWidth":1,"interpolate":"monotone","clip":true},
        "encoding":{"x":{"field":"t","type":"quantitative","scale":{"domain":[-0.5,1],"nice":false},"axis":{"values":[-0.5,0,0.5,1],"tickCount":20,"format":"~g","title":"Time from image onset (s)","labelOverlap":false,"titlePadding":2}},
         "y":{"field":"v","type":"quantitative","scale":{"domain":[0,50],"nice":false},"axis":{"values":[0,10,20,30,40,50],"tickCount":20,"title":"Firing rate (Hz)","titlePadding":2,"labelOverlap":false}},
         "color":{"field":"k","type":"nominal","scale":{"domain":["M1","M2","M3","M4","M5","M6","M7","M8"],"range":["#e3262b","#f7941d","#5ab848","#000000","#3a66c4","#c65bbf","#4fc3e0","#f2d91a"]},"legend":null}}},
       {"data":{"values":[{}]},"mark":{"type":"rule","color":"#000","strokeWidth":1.2},"encoding":{"x":{"datum":0}}}
      ]},
     {"width":113,"height":84,
      "layer":[
       {"data":{"name":"psth"},"transform":[{"filter":"datum.p=='c'"},{"fold":["Cm","Cp","Cpp"],"as":["k","v"]}],
        "mark":{"type":"line","strokeWidth":1,"interpolate":"monotone","clip":true},
        "encoding":{"x":{"field":"t","type":"quantitative","scale":{"domain":[-0.5,1],"nice":false},"axis":{"values":[-0.5,0,0.5,1],"tickCount":20,"format":"~g","title":"Time from image onset (s)","labelOverlap":false,"titlePadding":2}},
         "y":{"field":"v","type":"quantitative","scale":{"domain":[0,50],"nice":false},"axis":{"values":[0,10,20,30,40,50],"tickCount":20,"title":null,"labelOverlap":false}},
         "color":{"field":"k","type":"nominal","scale":{"domain":["Cm","Cp","Cpp"],"range":["#5bc5dc","#000000","#5cb846"]},"legend":null}}},
       {"data":{"values":[{}]},"mark":{"type":"rule","color":"#555","strokeWidth":1.2},"encoding":{"x":{"datum":0}}}
      ]}
    ]}
   ]}
 ],"spacing":0,"resolve":{"scale":{"color":"independent"},"legend":{"color":"independent"}}},
 {"concat":[
  {"title":{"text":"d","anchor":"start","frame":"bounds","fontSize":14,"fontWeight":"bold","offset":12},
   "resolve":{"scale":{"color":"independent","size":"independent"}},
   "vconcat":[
   {"width":293,"height":194,
    "layer":[
     {"data":{"name":"brk"},"mark":{"type":"rule","color":"#444","strokeWidth":0.9},
      "encoding":{"x":{"field":"x","type":"quantitative","scale":{"domain":[0.57,3.49],"nice":false,"zero":false},"axis":null},
       "x2":{"field":"x2"},
       "y":{"field":"y","type":"quantitative","scale":{"domain":[0.55,3.87],"nice":false,"zero":false},
        "axis":{"values":[1,2,3],"tickCount":20,"labels":false,"domain":false,"ticks":false,"title":"Percentage of neurons","titlePadding":38,"titleFontSize":11.5}},
       "y2":{"field":"y2"}}},
     {"data":{"name":"circ"},"mark":{"type":"circle","opacity":1},
      "encoding":{"x":{"field":"x","type":"quantitative"},"y":{"field":"y","type":"quantitative"},
       "size":{"field":"pct","type":"quantitative","scale":{"type":"pow","exponent":2,"domain":[0,100],"range":[0,2983]},"legend":null},
       "color":{"field":"reg","type":"nominal","scale":{"domain":["Amygdala","OFC","ACC"],"range":["#4a80c8","#5cba47","#e8392f"]},"legend":null}}},
     {"data":{"name":"circ"},"mark":{"type":"text","fontSize":11.5,"color":"#1a1a1a"},
      "encoding":{"x":{"field":"x","type":"quantitative"},"y":{"field":"y","type":"quantitative"},"text":{"field":"lab"}}},
     {"data":{"name":"rowlab"},"mark":{"type":"text","fontSize":11.5,"color":"#000","align":"right"},
      "encoding":{"x":{"field":"x","type":"quantitative"},"y":{"field":"y","type":"quantitative"},"text":{"field":"s"}}},
     {"data":{"name":"hdr"},"mark":{"type":"text","fontSize":11.5,"color":"#000"},
      "encoding":{"x":{"field":"x","type":"quantitative"},"y":{"field":"y","type":"quantitative"},"text":{"field":"s"}}},
     {"data":{"name":"stars"},"mark":{"type":"text","fontSize":10,"color":"#333"},
      "encoding":{"x":{"field":"x","type":"quantitative"},"y":{"field":"y","type":"quantitative"},"text":{"field":"s"}}}
    ]}
   ]},
  {"title":{"text":"e","anchor":"start","frame":"bounds","fontSize":14,"fontWeight":"bold","offset":6},
   "resolve":{"scale":{"color":"independent"}},
   "vconcat":[
   {"spacing":3,
    "resolve":{"scale":{"color":"independent"}},
    "hconcat":[
    {"width":92,"height":79,"title":{"text":"Amygdala","offset":-13},
     "data":{"name":"bars"},"transform":[{"filter":"datum.reg=='Amygdala'"}],
     "mark":{"type":"bar","color":"#4a80c8","stroke":"#a8c5ea","strokeWidth":1},
     "encoding":{"x":{"field":"m","type":"nominal","sort":null,"scale":{"paddingInner":0.08,"paddingOuter":0.08},"axis":{"labelAngle":-45,"ticks":false,"title":"Viewed monkeys","labelFontSize":10,"labelOverlap":false}},
      "y":{"field":"v","type":"quantitative","scale":{"domain":[0,80],"nice":false},"axis":{"values":[0,10,20,30,40,50,60,70,80],"tickCount":20,"labelExpr":"datum.value%20==0?datum.label:''","title":["Percentage of","responsive neurons"],"titlePadding":1,"labelPadding":1,"labelFontSize":10.5,"titleFontSize":10,"titleLineHeight":10.5,"labelOverlap":false}}}},
    {"width":92,"height":79,"title":{"text":"OFC","offset":-13},
     "data":{"name":"bars"},"transform":[{"filter":"datum.reg=='OFC'"}],
     "mark":{"type":"bar","color":"#6cbb47","stroke":"#b8dda4","strokeWidth":1},
     "encoding":{"x":{"field":"m","type":"nominal","sort":null,"scale":{"paddingInner":0.08,"paddingOuter":0.08},"axis":{"labelAngle":-45,"ticks":false,"title":"Viewed monkeys","labelFontSize":10,"labelOverlap":false}},
      "y":{"field":"v","type":"quantitative","scale":{"domain":[0,80],"nice":false},"axis":{"values":[0,10,20,30,40,50,60,70,80],"tickCount":20,"labels":false,"title":null}}}},
    {"width":92,"height":79,"title":{"text":"ACC","offset":-13},
     "data":{"name":"bars"},"transform":[{"filter":"datum.reg=='ACC'"}],
     "mark":{"type":"bar","color":"#e8383a","stroke":"#f4a3a3","strokeWidth":1},
     "encoding":{"x":{"field":"m","type":"nominal","sort":null,"scale":{"paddingInner":0.08,"paddingOuter":0.08},"axis":{"labelAngle":-45,"ticks":false,"title":"Viewed monkeys","labelFontSize":10,"labelOverlap":false}},
      "y":{"field":"v","type":"quantitative","scale":{"domain":[0,80],"nice":false},"axis":{"values":[0,10,20,30,40,50,60,70,80],"tickCount":20,"labels":false,"title":null}}}}
    ]}
   ]}
 ],"columns":1,"align":"none","spacing":40,"resolve":{"scale":{"color":"independent","size":"independent"},"legend":{"color":"independent"}}}
],"spacing":20,"resolve":{"scale":{"color":"independent","size":"independent"},"legend":{"color":"independent","size":"independent"}}},
{"title":{"text":"f","anchor":"start","frame":"bounds","fontSize":14,"fontWeight":"bold","offset":-12},
 "spacing":12,
 "resolve":{"scale":{"color":"independent"},"legend":{"color":"independent"}},
 "hconcat":[
  {"width":299,"height":128,"title":{"text":"Monkey","offset":3},
   "layer":[
    {"data":{"name":"dec"},"transform":[{"filter":"datum.p=='M'"}],
     "encoding":{"x":{"field":"t","type":"quantitative","scale":{"domain":[-0.5,2],"nice":false},"axis":{"values":[-0.5,0,0.5,1,1.5,2],"tickCount":20,"format":"~g","title":"Time from image onset (s)","labelOverlap":false,"titlePadding":2}}},
     "layer":[
      {"mark":{"type":"area","color":"#3a4fa3","opacity":0.22,"clip":true},"encoding":{"y":{"field":"Al","type":"quantitative","scale":{"domain":[0,1],"nice":false},"axis":{"values":[0,0.2,0.4,0.6,0.8,1],"tickCount":20,"format":"~g","title":"Dedcoding performance","labelOverlap":false}},"y2":{"field":"Ah"}}},
      {"mark":{"type":"area","color":"#2f8a3c","opacity":0.18,"clip":true},"encoding":{"y":{"field":"Ol","type":"quantitative"},"y2":{"field":"Oh"}}},
      {"mark":{"type":"area","color":"#e5302b","opacity":0.16,"clip":true},"encoding":{"y":{"field":"Cl","type":"quantitative"},"y2":{"field":"Ch"}}},
      {"mark":{"type":"line","strokeWidth":1.3},"encoding":{"y":{"field":"A","type":"quantitative"},"color":{"datum":"Amygdala","scale":{"domain":["Amygdala","OFC","ACC"],"range":["#3a4fa3","#2f8a3c","#e5302b"]},"legend":{"orient":"top-right","title":null,"symbolType":"stroke","symbolStrokeWidth":2.5,"symbolSize":350,"labelFontSize":11,"rowPadding":0,"offset":2,"padding":0}}}},
      {"mark":{"type":"line","strokeWidth":1.3},"encoding":{"y":{"field":"O","type":"quantitative"},"color":{"datum":"OFC"}}},
      {"mark":{"type":"line","strokeWidth":1.3},"encoding":{"y":{"field":"C","type":"quantitative"},"color":{"datum":"ACC"}}}
     ]},
    {"data":{"values":[{}]},"mark":{"type":"rule","color":"#000","strokeWidth":1},"encoding":{"x":{"datum":0}}},
    {"data":{"values":[{}]},"mark":{"type":"rule","color":"#000","strokeDash":[7,5],"strokeWidth":1.2},"encoding":{"y":{"datum":0.125}}}
   ]},
  {"width":300,"height":128,"title":{"text":"Fractal","offset":3},
   "layer":[
    {"data":{"name":"dec"},"transform":[{"filter":"datum.p=='F'"}],
     "encoding":{"x":{"field":"t","type":"quantitative","scale":{"domain":[-0.5,2],"nice":false},"axis":{"values":[-0.5,0,0.5,1,1.5,2],"tickCount":20,"format":"~g","title":"Time from image onset (s)","labelOverlap":false,"titlePadding":2}}},
     "layer":[
      {"mark":{"type":"area","color":"#3a4fa3","opacity":0.22,"clip":true},"encoding":{"y":{"field":"Al","type":"quantitative","scale":{"domain":[0,1],"nice":false},"axis":{"values":[0,0.2,0.4,0.6,0.8,1],"tickCount":20,"labels":false,"title":null}},"y2":{"field":"Ah"}}},
      {"mark":{"type":"area","color":"#2f8a3c","opacity":0.18,"clip":true},"encoding":{"y":{"field":"Ol","type":"quantitative"},"y2":{"field":"Oh"}}},
      {"mark":{"type":"area","color":"#e5302b","opacity":0.16,"clip":true},"encoding":{"y":{"field":"Cl","type":"quantitative"},"y2":{"field":"Ch"}}},
      {"mark":{"type":"line","strokeWidth":1.3},"encoding":{"y":{"field":"A","type":"quantitative"},"color":{"datum":"Amygdala","scale":{"domain":["Amygdala","OFC","ACC"],"range":["#3a4fa3","#2f8a3c","#e5302b"]},"legend":null}}},
      {"mark":{"type":"line","strokeWidth":1.3},"encoding":{"y":{"field":"O","type":"quantitative"},"color":{"datum":"OFC"}}},
      {"mark":{"type":"line","strokeWidth":1.3},"encoding":{"y":{"field":"C","type":"quantitative"},"color":{"datum":"ACC"}}}
     ]},
    {"data":{"values":[{}]},"mark":{"type":"rule","color":"#000","strokeWidth":1},"encoding":{"x":{"datum":0}}},
    {"data":{"values":[{}]},"mark":{"type":"rule","color":"#000","strokeDash":[7,5],"strokeWidth":1.2},"encoding":{"y":{"datum":0.3333}}}
   ]}
 ]},
{"title":{"text":"g","anchor":"start","frame":"bounds","fontSize":14,"fontWeight":"bold","offset":-12},
 "spacing":10,
 "hconcat":[
  {"width":191,"height":200,"title":{"text":"Amygdala","offset":-5},
   "layer":[
    {"data":{"name":"soc"},"transform":[{"filter":"datum.reg=='Amygdala'"}],
     "encoding":{"x":{"field":"x","type":"quantitative","scale":{"domain":[0,9.5],"nice":false},"axis":{"values":[1,2,3,4,5,6,7,8],"tickCount":20,"format":"d","title":"Social position","labelOverlap":false,"titlePadding":2}}},
     "layer":[
      {"mark":{"type":"errorbar","ticks":{"size":5},"color":"#cfcfcf","thickness":0.8},"encoding":{"y":{"field":"gl","type":"quantitative","title":"Mean firing rate (z-score)","scale":{"domain":[-0.5,2.5],"nice":false},"axis":{"values":[-0.5,0,0.5,1,1.5,2,2.5],"tickCount":20,"labelExpr":"datum.value==0?'0':format(datum.value,'.1f')","title":"Mean firing rate (z-score)","labelOverlap":false}},"y2":{"field":"gh"}}},
      {"mark":{"type":"errorbar","ticks":{"size":5},"color":"#cfcfcf","thickness":0.8},"encoding":{"y":{"field":"bl","type":"quantitative","title":"Mean firing rate (z-score)"},"y2":{"field":"bh"}}},
      {"mark":{"type":"circle","color":"#999","opacity":1,"size":10},"encoding":{"y":{"field":"g","type":"quantitative","title":"Mean firing rate (z-score)"}}},
      {"mark":{"type":"circle","color":"#000","opacity":1,"size":16},"encoding":{"y":{"field":"b","type":"quantitative","title":"Mean firing rate (z-score)"}}}
     ]},
    {"data":{"name":"rl"},"transform":[{"filter":"datum.reg=='Amygdala'"}],"mark":{"type":"line","strokeWidth":1.3,"clip":true},
     "encoding":{"x":{"field":"x","type":"quantitative"},"y":{"field":"y","type":"quantitative","title":"Mean firing rate (z-score)"},"detail":{"field":"k"},"color":{"condition":{"test":"datum.k=='g'","value":"#9a9a9a"},"value":"#000"}}},
    {"data":{"name":"gtxt"},"transform":[{"filter":"datum.reg=='Amygdala'"}],"mark":{"type":"text","align":"left","fontSize":11},
     "encoding":{"x":{"field":"x","type":"quantitative"},"y":{"field":"y","type":"quantitative","title":"Mean firing rate (z-score)"},"text":{"field":"s"},"color":{"condition":{"test":"datum.k=='g'","value":"#9a9a9a"},"value":"#000"}}}
   ]},
  {"width":188,"height":200,"title":{"text":"OFC","offset":-5},
   "layer":[
    {"data":{"name":"soc"},"transform":[{"filter":"datum.reg=='OFC'"}],
     "encoding":{"x":{"field":"x","type":"quantitative","scale":{"domain":[0,9.5],"nice":false},"axis":{"values":[1,2,3,4,5,6,7,8],"tickCount":20,"format":"d","title":"Social position","labelOverlap":false,"titlePadding":2}}},
     "layer":[
      {"mark":{"type":"errorbar","ticks":{"size":5},"color":"#cfcfcf","thickness":0.8},"encoding":{"y":{"field":"gl","type":"quantitative","title":null,"scale":{"domain":[-0.5,2.5],"nice":false},"axis":{"values":[-0.5,0,0.5,1,1.5,2,2.5],"tickCount":20,"labelExpr":"datum.value==0?'0':format(datum.value,'.1f')","title":null,"labelOverlap":false}},"y2":{"field":"gh"}}},
      {"mark":{"type":"errorbar","ticks":{"size":5},"color":"#cfcfcf","thickness":0.8},"encoding":{"y":{"field":"bl","type":"quantitative","title":null},"y2":{"field":"bh"}}},
      {"mark":{"type":"circle","color":"#999","opacity":1,"size":10},"encoding":{"y":{"field":"g","type":"quantitative","title":null}}},
      {"mark":{"type":"circle","color":"#000","opacity":1,"size":16},"encoding":{"y":{"field":"b","type":"quantitative","title":null}}}
     ]},
    {"data":{"name":"rl"},"transform":[{"filter":"datum.reg=='OFC'"}],"mark":{"type":"line","strokeWidth":1.3,"clip":true},
     "encoding":{"x":{"field":"x","type":"quantitative"},"y":{"field":"y","type":"quantitative","title":null},"detail":{"field":"k"},"color":{"condition":{"test":"datum.k=='g'","value":"#9a9a9a"},"value":"#000"}}},
    {"data":{"name":"gtxt"},"transform":[{"filter":"datum.reg=='OFC'"}],"mark":{"type":"text","align":"left","fontSize":11},
     "encoding":{"x":{"field":"x","type":"quantitative"},"y":{"field":"y","type":"quantitative","title":null},"text":{"field":"s"},"color":{"condition":{"test":"datum.k=='g'","value":"#9a9a9a"},"value":"#000"}}}
   ]},
  {"width":182,"height":200,"title":{"text":"ACC","offset":-5},
   "layer":[
    {"data":{"name":"soc"},"transform":[{"filter":"datum.reg=='ACC'"}],
     "encoding":{"x":{"field":"x","type":"quantitative","scale":{"domain":[0,9.5],"nice":false},"axis":{"values":[1,2,3,4,5,6,7,8],"tickCount":20,"format":"d","title":"Social position","labelOverlap":false,"titlePadding":2}}},
     "layer":[
      {"mark":{"type":"errorbar","ticks":{"size":5},"color":"#cfcfcf","thickness":0.8},"encoding":{"y":{"field":"gl","type":"quantitative","title":null,"scale":{"domain":[-0.5,2.5],"nice":false},"axis":{"values":[-0.5,0,0.5,1,1.5,2,2.5],"tickCount":20,"labelExpr":"datum.value==0?'0':format(datum.value,'.1f')","title":null,"labelOverlap":false}},"y2":{"field":"gh"}}},
      {"mark":{"type":"errorbar","ticks":{"size":5},"color":"#cfcfcf","thickness":0.8},"encoding":{"y":{"field":"bl","type":"quantitative","title":null},"y2":{"field":"bh"}}},
      {"mark":{"type":"circle","color":"#999","opacity":1,"size":10},"encoding":{"y":{"field":"g","type":"quantitative","title":null}}},
      {"mark":{"type":"circle","color":"#000","opacity":1,"size":16},"encoding":{"y":{"field":"b","type":"quantitative","title":null}}}
     ]},
    {"data":{"name":"rl"},"transform":[{"filter":"datum.reg=='ACC'"}],"mark":{"type":"line","strokeWidth":1.3,"clip":true},
     "encoding":{"x":{"field":"x","type":"quantitative"},"y":{"field":"y","type":"quantitative","title":null},"detail":{"field":"k"},"color":{"condition":{"test":"datum.k=='g'","value":"#9a9a9a"},"value":"#000"}}},
    {"data":{"name":"gtxt"},"transform":[{"filter":"datum.reg=='ACC'"}],"mark":{"type":"text","align":"left","fontSize":11},
     "encoding":{"x":{"field":"x","type":"quantitative"},"y":{"field":"y","type":"quantitative","title":null},"text":{"field":"s"},"color":{"condition":{"test":"datum.k=='g'","value":"#9a9a9a"},"value":"#000"}}}
   ]}
 ]}
]
}
